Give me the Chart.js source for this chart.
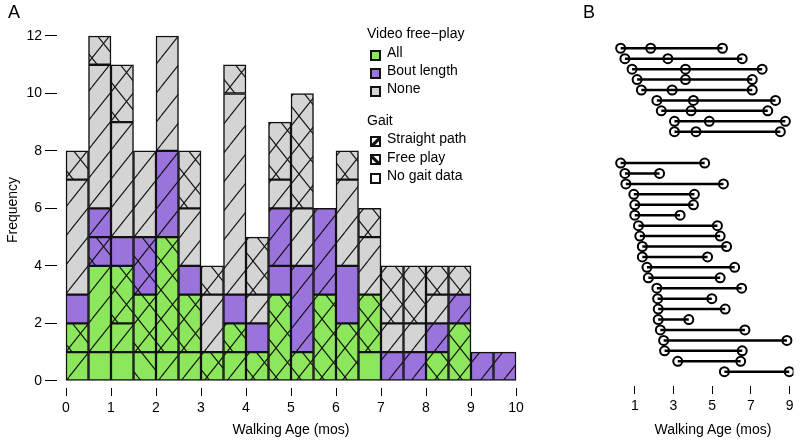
<!DOCTYPE html>
<html>
<head>
<meta charset="utf-8">
<script src="https://cdn.jsdelivr.net/npm/chart.js@4.4.1/dist/chart.umd.min.js"></script>
<style>
  body { margin: 0; width: 800px; height: 440px; background: #fff; position: relative; overflow: hidden;
         font-family: "Liberation Sans", Arial, sans-serif; color: #000; }
  canvas { position: absolute; top: 0; }
  #chartA { left: 0; }
  #chartB { left: 560px; }
  .txt { position: absolute; white-space: nowrap; font-size: 14px; line-height: 16px; }
  .panel { position: absolute; font-size: 18px; line-height: 20px; }
  .key { position: absolute; width: 11px; height: 11px; }
</style>
</head>
<body>
<canvas id="chartA" width="560" height="440"></canvas>
<canvas id="chartB" width="240" height="440"></canvas>

<div class="panel" style="left:8px;top:2px">A</div>
<div class="panel" style="left:583px;top:2px">B</div>
<div class="txt" style="left:12px;top:210px;transform:translate(-50%,-50%) rotate(-90deg)">Frequency</div>
<div class="txt" style="left:291px;top:429px;transform:translate(-50%,-50%)">Walking Age (mos)</div>
<div class="txt" style="left:713px;top:429px;transform:translate(-50%,-50%)">Walking Age (mos)</div>

<div id="legend"></div>

<script>
// histogram (panel A): half-month bins, each bin stacked bottom -> top
// [video free-play group, gait hatch, count]   A = All, B = Bout length, N = None
// gait: '/' straight path, '\\' free play, 'x' both, '' no gait data
const xTicksA = [0, 1, 2, 3, 4, 5, 6, 7, 8, 9, 10];
const yTicksA = [0, 2, 4, 6, 8, 10, 12];
const binWidth = 0.5;
const binStart = [0, 0.5, 1, 1.5, 2, 2.5, 3, 3.5, 4, 4.5, 5, 5.5, 6, 6.5, 7, 7.5, 8, 8.5, 9, 9.5];
const stacks = [
  [['A', '/', 1], ['A', 'x', 1], ['B', '', 1], ['N', '/', 4], ['N', 'x', 1]],
  [['A', '', 1], ['A', '/', 3], ['B', 'x', 1], ['B', '/', 1], ['N', '/', 5], ['N', 'x', 1]],
  [['A', '', 1], ['A', '/', 1], ['A', 'x', 2], ['B', '', 1], ['N', '/', 4], ['N', 'x', 2]],
  [['A', '\\', 1], ['A', 'x', 2], ['B', 'x', 2], ['N', '/', 3]],
  [['A', '/', 1], ['A', 'x', 4], ['B', '/', 3], ['N', '/', 4]],
  [['A', '/', 1], ['A', 'x', 2], ['B', '', 1], ['N', '/', 2], ['N', 'x', 2]],
  [['A', 'x', 1], ['N', '/', 2], ['N', 'x', 1]],
  [['A', '/', 1], ['A', 'x', 1], ['B', '', 1], ['N', '/', 7], ['N', 'x', 1]],
  [['A', 'x', 1], ['B', '', 1], ['N', '/', 1], ['N', 'x', 2]],
  [['A', 'x', 3], ['B', '', 1], ['B', '/', 2], ['N', '/', 1], ['N', 'x', 2]],
  [['A', 'x', 1], ['B', '/', 3], ['N', '/', 2], ['N', 'x', 4]],
  [['A', 'x', 3], ['B', '/', 3]],
  [['A', 'x', 2], ['B', '', 2], ['N', '/', 3], ['N', 'x', 1]],
  [['A', '', 1], ['A', 'x', 2], ['N', '/', 2], ['N', 'x', 1]],
  [['B', '/', 1], ['N', '/', 1], ['N', 'x', 2]],
  [['B', '/', 1], ['N', '/', 1], ['N', 'x', 2]],
  [['A', 'x', 1], ['B', '/', 1], ['N', '/', 1], ['N', 'x', 1]],
  [['A', 'x', 2], ['B', '/', 1], ['N', 'x', 1]],
  [['B', '/', 1]],
  [['B', '/', 1]]
];

// walking ages (panel B): one row per child, top group has a middle visit
const xTicksB = [1, 3, 5, 7, 9];
const firstAge = [0.27, 0.49, 0.86, 1.12, 1.34, 2.14, 2.37, 3.05, 3.05,
                  0.27, 0.49, 0.54, 0.95, 1.0, 1.0, 1.19, 1.26, 1.39, 1.39, 1.63, 1.70,
                  2.14, 2.18, 2.21, 2.21, 2.32, 2.49, 2.54, 3.22, 5.63];
const midAge   = [1.82, 2.71, 3.62, 3.62, 2.93, 4.03, 3.91, 4.85, 4.16,
                  null, null, null, null, null, null, null, null, null, null, null, null,
                  null, null, null, null, null, null, null, null, null];
const lastAge  = [5.53, 6.55, 7.58, 7.07, 7.07, 8.27, 7.87, 8.78, 8.52,
                  4.61, 2.28, 5.58, 4.08, 4.03, 3.34, 5.27, 5.41, 5.74, 4.76, 6.16, 5.41,
                  6.52, 4.98, 5.67, 3.79, 6.69, 8.86, 6.55, 6.47, 8.98];
const topGroupSize = 9;

const font = { family: '"Liberation Sans", Arial, sans-serif', size: 14 };
const videoColor = { A: '#8ce75c', B: '#9b73dc', N: '#d4d4d4' };
const videoLabels = [['A', 'All'], ['B', 'Bout length'], ['N', 'None']];
const gaitLabels = [['/', 'Straight path'], ['\\', 'Free play'], ['', 'No gait data']];

// hatch patterns anchored to the canvas so lines run on across cells
const patternCache = {};
function fillFor(seg) {
  const key = seg[0] + seg[1];
  if (patternCache[key]) return patternCache[key];
  const w = 23, h = 29;
  const c = document.createElement('canvas');
  c.width = w; c.height = h;
  const g = c.getContext('2d');
  g.fillStyle = videoColor[seg[0]];
  g.fillRect(0, 0, w, h);
  g.strokeStyle = '#111';
  g.lineWidth = 1.1;
  const line = (x0, y0, x1, y1) => { g.beginPath(); g.moveTo(x0, y0); g.lineTo(x1, y1); g.stroke(); };
  for (const dx of [-w, 0, w]) {
    if (seg[1] === '/' || seg[1] === 'x') line(dx, h, dx + w, 0);
    if (seg[1] === '\\' || seg[1] === 'x') line(dx, 0, dx + w, h);
  }
  patternCache[key] = g.createPattern(c, 'repeat');
  return patternCache[key];
}

const layers = Math.max(...stacks.map(s => s.length));
const datasetsA = [];
for (let k = 0; k < layers; k++) {
  const data = [];
  stacks.forEach((s, b) => {
    if (s[k]) data.push({ x: binStart[b] + binWidth / 2, y: s[k][2], b });
  });
  datasetsA.push({
    data,
    backgroundColor: c => (c.raw ? fillFor(stacks[c.raw.b][k]) : '#fff'),
    borderColor: '#111',
    borderWidth: 1.5,
    borderSkipped: false,
    barPercentage: 1,
    categoryPercentage: 1
  });
}

const tickGrid = len => ({ drawOnChartArea: false, drawTicks: true, tickLength: len, color: '#000', lineWidth: 1, offset: false });

new Chart(document.getElementById('chartA'), {
  type: 'bar',
  data: { datasets: datasetsA },
  options: {
    responsive: false,
    animation: false,
    layout: { padding: { top: 24.5, right: 35, left: 0, bottom: 0 } },
    plugins: { legend: { display: false }, tooltip: { enabled: false } },
    scales: {
      x: {
        type: 'linear', stacked: true, offset: false, min: -0.2, max: 10.2,
        afterBuildTicks: s => { s.ticks = xTicksA.map(v => ({ value: v })); },
        afterFit: s => { s.height = 52; },
        grid: tickGrid(8),
        border: { display: false },
        ticks: { font, color: '#000', padding: 4, maxRotation: 0, autoSkip: false }
      },
      y: {
        stacked: true, min: -0.25, max: 12.4,
        afterBuildTicks: s => { s.ticks = yTicksA.map(v => ({ value: v })); },
        afterFit: s => { s.width = 57; },
        grid: tickGrid(12),
        border: { display: false },
        ticks: { font, color: '#000', padding: 3 }
      }
    }
  }
});

const datasetsB = firstAge.map((a, i) => {
  const row = i < topGroupSize ? i : i + 2;
  const pts = [a, midAge[i], lastAge[i]].filter(v => v !== null).map(v => ({ x: v, y: row }));
  return {
    data: pts,
    showLine: true,
    borderColor: '#000',
    borderWidth: 2.5,
    pointRadius: 4.5,
    pointBorderWidth: 2,
    pointBorderColor: '#000',
    pointBackgroundColor: 'rgba(0,0,0,0)'
  };
});

new Chart(document.getElementById('chartB'), {
  type: 'scatter',
  data: { datasets: datasetsB },
  options: {
    responsive: false,
    animation: false,
    layout: { padding: { top: 30, right: 5.1, left: 45.75, bottom: 0 } },
    plugins: { legend: { display: false }, tooltip: { enabled: false } },
    scales: {
      x: {
        type: 'linear', min: -0.5, max: 9.2,
        afterBuildTicks: s => { s.ticks = xTicksB.map(v => ({ value: v })); },
        afterFit: s => { s.height = 54; },
        grid: tickGrid(8),
        border: { display: false },
        ticks: { font, color: '#000', padding: 4, maxRotation: 0, autoSkip: false }
      },
      y: { type: 'linear', display: false, reverse: true, min: -1.75, max: 32.37 }
    }
  }
});

// legend (html)
const legend = document.getElementById('legend');
function addText(str, x, y) {
  const d = document.createElement('div');
  d.className = 'txt';
  d.style.left = x + 'px';
  d.style.top = (y - 8) + 'px';
  d.textContent = str;
  legend.appendChild(d);
}
function addKey(svg, x, y) {
  const d = document.createElement('div');
  d.className = 'key';
  d.style.left = x + 'px';
  d.style.top = (y - 5.5) + 'px';
  d.innerHTML = '<svg width="11" height="11" viewBox="0 0 11 11">' + svg + '</svg>';
  legend.appendChild(d);
}
addText('Video free\u2212play', 367, 33);
videoLabels.forEach(([k, label], i) => {
  const y = 52 + i * 18;
  addKey('<rect x="1" y="1" width="9" height="9" fill="' + videoColor[k] + '" stroke="#111" stroke-width="2"/>', 370, y);
  addText(label, 387, y);
});
addText('Gait', 367, 120);
gaitLabels.forEach(([k, label], i) => {
  const y = 138 + i * 18.5;
  let inner = '';
  if (k === '/') inner = '<path d="M1 10 L10 1 L10 4 L4 10 Z" fill="#111"/><line x1="1" y1="10" x2="10" y2="1" stroke="#111" stroke-width="2"/>';
  if (k === '\\') inner = '<path d="M1 1 L10 10 L7 10 L1 4 Z" fill="#111"/><line x1="1" y1="1" x2="10" y2="10" stroke="#111" stroke-width="2"/>';
  addKey('<rect x="1" y="1" width="9" height="9" fill="#fff" stroke="#111" stroke-width="2"/>' + inner, 370, y);
  addText(label, 387, y);
});
</script>
</body>
</html>
